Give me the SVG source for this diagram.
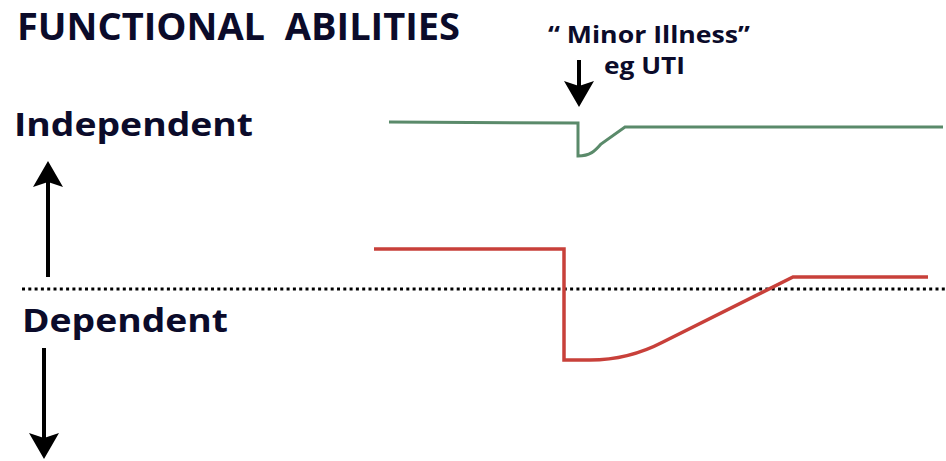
<svg xmlns="http://www.w3.org/2000/svg" width="946" height="461" viewBox="0 0 946 461">
  <style>
    .lbl { font-family: "Open Sans", "Liberation Sans", sans-serif; font-weight: 700; fill: #0b0b2a; }
    .arrow { stroke: #000; stroke-width: 4; fill: none; }
    .dotted { stroke: #000; stroke-width: 3; stroke-dasharray: 3 3.3; fill: none; }
  </style>
  <defs>
    <marker id="head" markerUnits="userSpaceOnUse" markerWidth="40" markerHeight="40" refX="0" refY="0" orient="auto" overflow="visible">
      <path d="M21,0 L-5,-15 L0,0 L-5,15 Z" fill="#000"/>
    </marker>
  </defs>
  <rect width="946" height="461" fill="#fff"/>

  <g id="title">
    <text class="lbl" x="17" y="40" font-size="37" textLength="443" lengthAdjust="spacingAndGlyphs">FUNCTIONAL&#160; ABILITIES</text>
  </g>

  <g id="independent">
    <text class="lbl" x="14" y="136" font-size="32" textLength="239" lengthAdjust="spacingAndGlyphs">Independent</text>
  </g>
  <g id="dependent">
    <text class="lbl" x="22" y="332" font-size="32" textLength="206" lengthAdjust="spacingAndGlyphs">Dependent</text>
  </g>
  <g id="minor-illness">
    <text class="lbl" x="548" y="43" font-size="24" textLength="202" lengthAdjust="spacingAndGlyphs">“ Minor Illness”</text>
    <text class="lbl" x="604" y="74" font-size="24" textLength="81" lengthAdjust="spacingAndGlyphs">eg UTI</text>
  </g>

  <g id="baseline">
    <line class="dotted" x1="22" y1="289" x2="946" y2="289"/>
  </g>

  <g id="green-curve">
    <path d="M389,122 L578,123 L578,156 C590,156 595,151 601,144 L625,127 L943,127" fill="none" stroke="#5a8a6a" stroke-width="3"/>
  </g>
  <g id="red-curve">
    <path d="M374,249 L564,249 L564,360 L590,360 C615,360 640,354 663,342 L793,277 L928,277" fill="none" stroke="#c8403a" stroke-width="3.5"/>
  </g>

  <g id="connectors">
    <line class="arrow" x1="48" y1="277" x2="48" y2="182" marker-end="url(#head)"/>
    <line class="arrow" x1="44" y1="348" x2="44" y2="438" marker-end="url(#head)"/>
    <line class="arrow" x1="579" y1="60" x2="579" y2="86" stroke-width="3" marker-end="url(#head)"/>
  </g>
</svg>
